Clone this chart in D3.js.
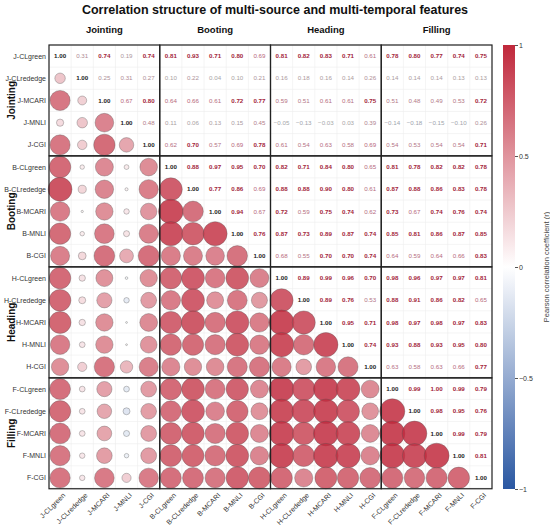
<!DOCTYPE html>
<html>
<head>
<meta charset="utf-8">
<script src="https://cdn.jsdelivr.net/npm/d3@7"></script>
<style>
  body { margin: 0; background: #fff; }
  svg { font-family: "Liberation Sans", Arial, sans-serif; }
</style>
</head>
<body>
<svg id="chart" width="550" height="531"></svg>
<script>
// stages and indices
const stages = ["Jointing", "Booting", "Heading", "Filling"];
const stagePrefix = ["J", "B", "H", "F"];
const indices = ["CLgreen", "CLrededge", "MCARI", "MNLI", "CGI"];
const colorTicks = [-1, -0.5, 0, 0.5, 1];

// upper triangle of the correlation matrix, each row starts at the diagonal
const corrUpper = [
  [1.00, 0.31, 0.74, 0.19, 0.74, 0.81, 0.93, 0.71, 0.80, 0.69, 0.81, 0.82, 0.83, 0.71, 0.61, 0.78, 0.80, 0.77, 0.74, 0.75],
  [1.00, 0.25, 0.31, 0.27, 0.10, 0.22, 0.04, 0.10, 0.21, 0.16, 0.18, 0.16, 0.14, 0.26, 0.14, 0.14, 0.14, 0.13, 0.13],
  [1.00, 0.67, 0.80, 0.64, 0.66, 0.61, 0.72, 0.77, 0.59, 0.51, 0.61, 0.61, 0.75, 0.51, 0.48, 0.49, 0.53, 0.72],
  [1.00, 0.48, 0.11, 0.06, 0.13, 0.15, 0.45, -0.05, -0.13, -0.03, 0.03, 0.39, -0.14, -0.18, -0.15, -0.10, 0.26],
  [1.00, 0.62, 0.70, 0.57, 0.69, 0.78, 0.61, 0.54, 0.63, 0.58, 0.69, 0.54, 0.53, 0.54, 0.54, 0.71],
  [1.00, 0.88, 0.97, 0.95, 0.70, 0.82, 0.71, 0.84, 0.80, 0.65, 0.81, 0.78, 0.82, 0.82, 0.78],
  [1.00, 0.77, 0.86, 0.69, 0.88, 0.88, 0.90, 0.80, 0.61, 0.87, 0.88, 0.86, 0.83, 0.78],
  [1.00, 0.94, 0.67, 0.72, 0.59, 0.75, 0.74, 0.62, 0.73, 0.67, 0.74, 0.76, 0.74],
  [1.00, 0.76, 0.87, 0.73, 0.89, 0.87, 0.74, 0.85, 0.81, 0.86, 0.87, 0.85],
  [1.00, 0.68, 0.55, 0.70, 0.70, 0.74, 0.64, 0.59, 0.64, 0.66, 0.83],
  [1.00, 0.89, 0.99, 0.96, 0.70, 0.98, 0.96, 0.97, 0.97, 0.81],
  [1.00, 0.89, 0.76, 0.53, 0.88, 0.91, 0.86, 0.82, 0.65],
  [1.00, 0.95, 0.71, 0.98, 0.97, 0.98, 0.97, 0.83],
  [1.00, 0.74, 0.93, 0.88, 0.93, 0.95, 0.80],
  [1.00, 0.63, 0.58, 0.63, 0.66, 0.77],
  [1.00, 0.99, 1.00, 0.99, 0.79],
  [1.00, 0.98, 0.95, 0.76],
  [1.00, 0.99, 0.79],
  [1.00, 0.81],
  [1.00]
];

const features = [];
stagePrefix.forEach(p => indices.forEach(ix => features.push(p + "-" + ix)));
const n = features.length;

// build the full symmetric matrix
const cells = [];
corrUpper.forEach((row, i) => {
  row.forEach((v, k) => {
    const j = i + k;
    cells.push({row: i, col: j, r: v, upper: true});
    if (j !== i) cells.push({row: j, col: i, r: v, upper: false});
  });
});

const svg = d3.select("#chart");
const mLeft = 49, mRight = 492, mTop = 45, mBottom = 489;

const x = d3.scaleBand().domain(features).range([mLeft, mRight]);
const y = d3.scaleBand().domain(features).range([mTop, mBottom]);
const bw = x.bandwidth();

const color = d3.scaleLinear()
  .domain([-1, 0, 1])
  .range(["#2a57a2", "#ffffff", "#c0283b"])
  .interpolate(d3.interpolateRgb);

const radius = d3.scalePow().exponent(0.75).domain([0, 1]).range([0, 12.6]);

// title
svg.append("text")
  .attr("x", 275).attr("y", 14)
  .attr("text-anchor", "middle")
  .attr("font-size", 12.5).attr("font-weight", "bold").attr("fill", "#111")
  .text("Correlation structure of multi-source and multi-temporal features");

// faint cell grid
const grid = svg.append("g").attr("stroke", "#ececec").attr("stroke-width", 0.6);
d3.range(n + 1).forEach(k => {
  const px = mLeft + k * bw, py = mTop + k * bw;
  grid.append("line").attr("x1", px).attr("x2", px).attr("y1", mTop).attr("y2", mBottom);
  grid.append("line").attr("y1", py).attr("y2", py).attr("x1", mLeft).attr("x2", mRight);
});

// circles, lower triangle
svg.append("g").selectAll("circle")
  .data(cells.filter(d => !d.upper))
  .join("circle")
  .attr("cx", d => x(features[d.col]) + bw / 2)
  .attr("cy", d => y(features[d.row]) + bw / 2)
  .attr("r", d => radius(Math.abs(d.r)))
  .attr("fill", d => color(d.r))
  .attr("fill-opacity", 0.85)
  .attr("stroke", "#555")
  .attr("stroke-opacity", 0.7)
  .attr("stroke-width", 0.5);

// numbers, upper triangle and diagonal
function textColor(d) {
  if (d.row === d.col) return "#222";
  if (Math.abs(d.r) >= 0.7) return "#a3253a";
  if (d.r >= 0) return d3.interpolateRgb("#a9a9a9", "#b8667a")(d.r / 0.7);
  return d3.interpolateRgb("#a9a9a9", "#7d8fb8")(-d.r / 0.7);
}

svg.append("g").selectAll("text")
  .data(cells.filter(d => d.upper))
  .join("text")
  .attr("x", d => x(features[d.col]) + bw / 2)
  .attr("y", d => y(features[d.row]) + bw / 2)
  .attr("dy", "0.35em")
  .attr("text-anchor", "middle")
  .attr("font-size", 6.2)
  .attr("font-weight", d => (d.row === d.col || Math.abs(d.r) >= 0.7) ? "bold" : "normal")
  .attr("fill", textColor)
  .text(d => d3.format(".2f")(d.r));

// stage blocks
const blocks = svg.append("g").attr("fill", "none").attr("stroke", "#222").attr("stroke-width", 1.2);
stages.forEach((s, a) => {
  stages.forEach((t, b) => {
    blocks.append("rect")
      .attr("x", x(features[b * 5])).attr("y", y(features[a * 5]))
      .attr("width", bw * 5).attr("height", bw * 5);
  });
});

// row labels
svg.append("g").selectAll("text")
  .data(features)
  .join("text")
  .attr("x", mLeft - 3)
  .attr("y", d => y(d) + bw / 2)
  .attr("dy", "0.35em")
  .attr("text-anchor", "end")
  .attr("font-size", 7).attr("fill", "#333")
  .text(d => d);

// column labels
svg.append("g").selectAll("text")
  .data(features)
  .join("text")
  .attr("transform", d => `translate(${x(d) + bw / 2 + 4},${mBottom + 5}) rotate(-45)`)
  .attr("dy", "0.35em")
  .attr("text-anchor", "end")
  .attr("font-size", 7).attr("fill", "#333")
  .text(d => d);

// stage headers
svg.append("g").selectAll("text")
  .data(stages)
  .join("text")
  .attr("x", (d, i) => x(features[i * 5]) + bw * 2.5)
  .attr("y", mTop - 12)
  .attr("text-anchor", "middle")
  .attr("font-size", 9.5).attr("font-weight", "bold").attr("fill", "#111")
  .text(d => d);

svg.append("g").selectAll("text")
  .data(stages)
  .join("text")
  .attr("transform", (d, i) => `translate(15,${y(features[i * 5]) + bw * 2.5}) rotate(-90)`)
  .attr("text-anchor", "middle")
  .attr("font-size", 10).attr("font-weight", "bold").attr("fill", "#111")
  .text(d => d);

// colour bar
const cbX = 503, cbW = 12;
const cbScale = d3.scaleLinear().domain([-1, 1]).range([mBottom, mTop]);

const grad = svg.append("defs").append("linearGradient")
  .attr("id", "cbar").attr("x1", 0).attr("x2", 0).attr("y1", 1).attr("y2", 0);
d3.range(-1, 1.001, 0.1).forEach(v => {
  grad.append("stop")
    .attr("offset", (v + 1) / 2)
    .attr("stop-color", color(v));
});

svg.append("rect")
  .attr("x", cbX).attr("y", mTop)
  .attr("width", cbW).attr("height", mBottom - mTop)
  .attr("fill", "url(#cbar)");

const cbAxis = svg.append("g")
  .attr("transform", `translate(${cbX + cbW},0)`)
  .call(d3.axisRight(cbScale).tickValues(colorTicks).tickSize(3).tickFormat(d3.format("~g")));
cbAxis.select(".domain").remove();
cbAxis.selectAll("line").attr("stroke", "#555");
cbAxis.selectAll("text")
  .attr("font-family", "Liberation Sans, Arial, sans-serif")
  .attr("font-size", 7).attr("fill", "#333").attr("x", 4);

svg.append("text")
  .attr("transform", `translate(546,${(mTop + mBottom) / 2}) rotate(-90)`)
  .attr("text-anchor", "middle")
  .attr("dy", "0.35em")
  .attr("font-size", 7.5).attr("fill", "#444")
  .text("Pearson correlation coefficient (r)");
</script>
</body>
</html>
